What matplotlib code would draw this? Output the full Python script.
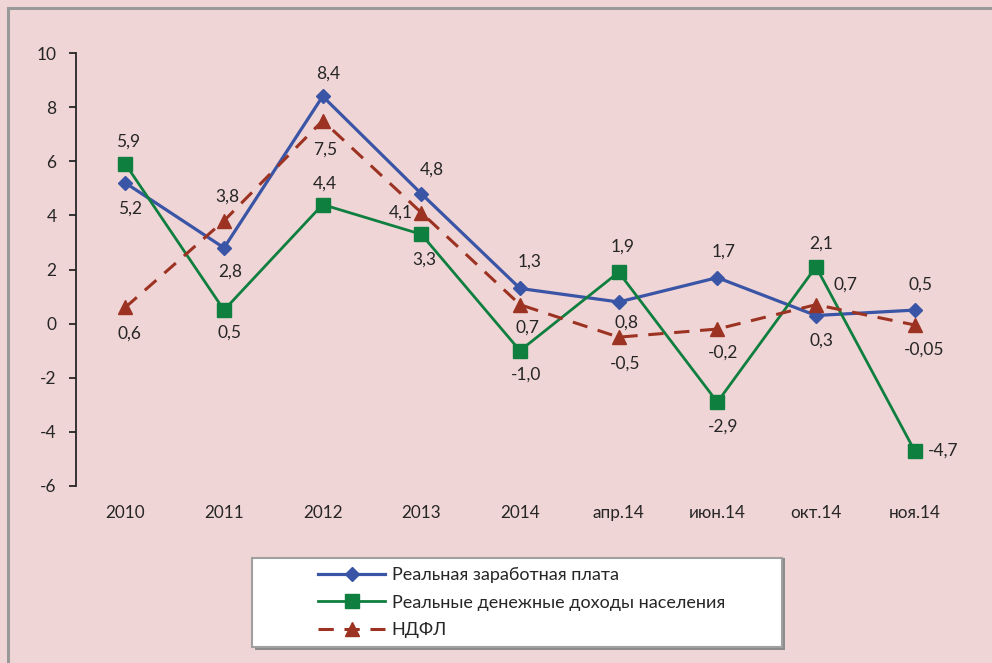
import matplotlib
matplotlib.use('Agg')
import matplotlib.pyplot as plt
from matplotlib.patches import Rectangle

plt.rcParams['font.family'] = ['Lato', 'Noto Sans', 'DejaVu Sans']
plt.rcParams['axes.unicode_minus'] = False

categories = ['2010', '2011', '2012', '2013', '2014', 'апр.14', 'июн.14', 'окт.14', 'ноя.14']
wages  = [5.2, 2.8, 8.4, 4.8, 1.3, 0.8, 1.7, 0.3, 0.5]
income = [5.9, 0.5, 4.4, 3.3, -1.0, 1.9, -2.9, 2.1, -4.7]
ndfl   = [0.6, 3.8, 7.5, 4.1, 0.7, -0.5, -0.2, 0.7, -0.05]
wages_txt  = ['5,2', '2,8', '8,4', '4,8', '1,3', '0,8', '1,7', '0,3', '0,5']
income_txt = ['5,9', '0,5', '4,4', '3,3', '-1,0', '1,9', '-2,9', '2,1', '-4,7']
ndfl_txt   = ['0,6', '3,8', '7,5', '4,1', '0,7', '-0,5', '-0,2', '0,7', '-0,05']
names = ['Реальная заработная плата', 'Реальные денежные доходы населения', 'НДФЛ']

# label offsets in pixels (dx, dy down-positive)
wages_off  = [(5, 26), (6, 24), (6, -23), (11, -24), (10, -27), (8, 21), (6, -26), (5, 25), (6, -25)]
income_off = [(3, -22), (5, 23), (2, -21), (3, 25), (6, 24), (4, -26), (6, 25), (5, -23), (29, 0)]
ndfl_off   = [(4, 26), (3, -24), (3, 29), (-21, 0), (7, 23), (6, 26), (6, 24), (29, -20), (9, 25)]

blue = '#3a55a6'
green = '#0f7f3f'
red = '#9c3322'
bg = '#f0d5d6'
txt = '#262626'

fig = plt.figure(figsize=(9.92, 6.63), dpi=100, facecolor=bg)
ax = fig.add_axes([76/992, 1-486/663, (964-76)/992, (486-53)/663])
ax.set_facecolor(bg)

x = list(range(len(categories)))
l1, = ax.plot(x, wages, color=blue, lw=2.3, marker='D', ms=7.5, label=names[0], zorder=3)
l2, = ax.plot(x, income, color=green, lw=2.0, marker='s', ms=10, label=names[1], zorder=3)
l3, = ax.plot(x, ndfl, color=red, lw=2.2, ls=(0, (5, 3.5)), marker='^', ms=10,
              label=names[2], zorder=3)

for vals, labs, offs in [(wages, wages_txt, wages_off), (income, income_txt, income_off),
                         (ndfl, ndfl_txt, ndfl_off)]:
    for i, (v, s, (dx, dy)) in enumerate(zip(vals, labs, offs)):
        ax.annotate(s, (i, v), xytext=(dx*0.72, -dy*0.72), textcoords='offset points',
                    ha='center', va='center', fontsize=12.5, color=txt, zorder=4)

ax.set_xlim(-0.5, len(categories) - 0.5)
ax.set_ylim(-6, 10)
ax.set_yticks(range(-6, 11, 2))
ax.set_xticks(x)
ax.set_xticklabels(categories)
for s in ['top', 'right', 'bottom']:
    ax.spines[s].set_visible(False)
ax.spines['left'].set_color('#262626')
ax.spines['left'].set_linewidth(1.3)
ax.tick_params(axis='y', direction='out', length=5, width=1.3, color='#262626',
               pad=9, labelsize=12.5, labelcolor=txt)
ax.tick_params(axis='x', length=0, pad=14, labelsize=12.3, labelcolor=txt)

# outer frame
fig.patches.append(Rectangle((8/992, -0.1), 1.2, 1 - 8/663 + 0.1, transform=fig.transFigure,
                             fill=False, edgecolor='#999999', lw=2.2, zorder=0))

# legend box with shadow
fig.patches.append(Rectangle((255/992, 1-650/663), (782-252)/992, (650-558)/663,
                             transform=fig.transFigure, facecolor='#8c8c8c',
                             edgecolor='none', zorder=1))
fig.patches.append(Rectangle((252/992, 1-647/663), (782-252)/992, (647-558)/663,
                             transform=fig.transFigure, facecolor='white',
                             edgecolor='#a0a0a0', lw=1.5, zorder=2))
leg = fig.legend(handles=[l1, l2, l3], loc='upper left',
                 bbox_to_anchor=(304/992, 1-553/663), frameon=False,
                 fontsize=13, handlelength=3.7, handletextpad=0.35, labelspacing=0.62,
                 borderpad=0.3)
for t in leg.get_texts():
    t.set_color(txt)
leg.set_zorder(5)

fig.savefig('out.png', dpi=100, facecolor=bg)
